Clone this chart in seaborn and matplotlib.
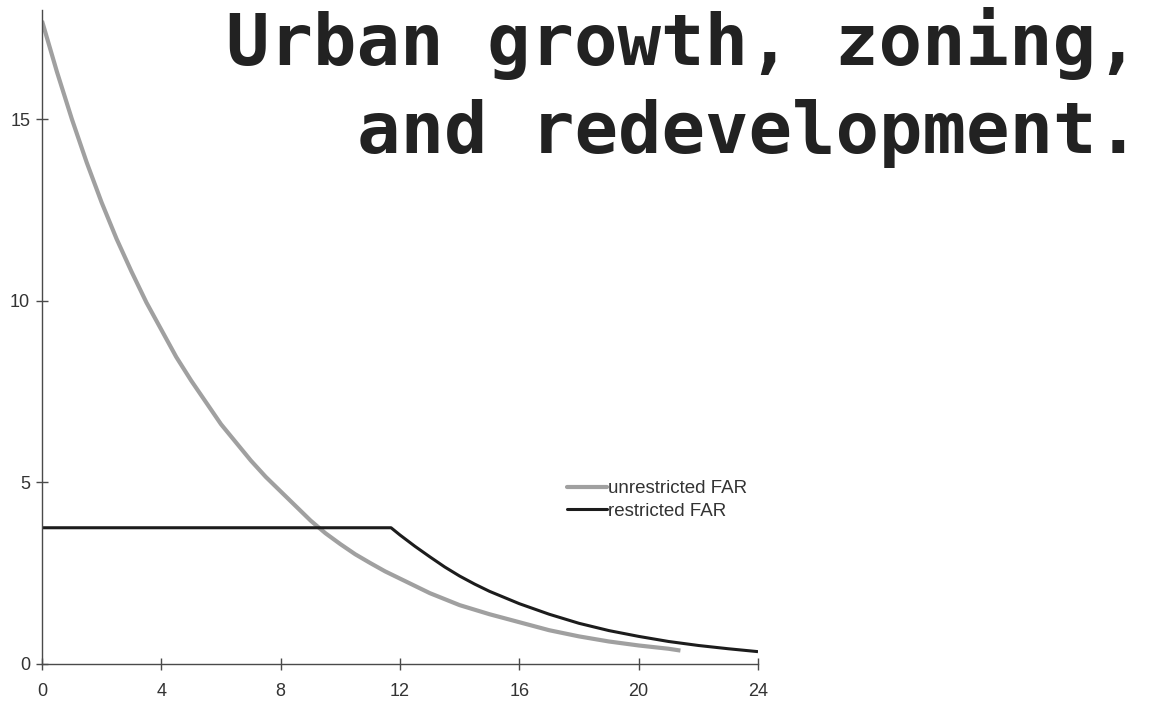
import matplotlib
matplotlib.use("Agg")
import matplotlib.pyplot as plt
from matplotlib.lines import Line2D
import seaborn as sns
import pandas as pd

# ---- data ----
dist_unrestricted = [0, 0.5, 1, 1.5, 2, 2.5, 3, 3.5, 4, 4.5, 5, 5.5, 6, 6.5, 7, 7.5, 8,
                     8.5, 9, 9.5, 10, 10.5, 11, 11.5, 12, 13, 14, 15, 16, 17, 18, 19,
                     20, 21, 21.4]
far_unrestricted = [17.7, 16.3, 15.0, 13.8, 12.7, 11.7, 10.8, 9.95, 9.2, 8.45, 7.8,
                    7.2, 6.6, 6.1, 5.6, 5.15, 4.75, 4.35, 3.95, 3.6, 3.3, 3.02, 2.78,
                    2.55, 2.35, 1.95, 1.62, 1.37, 1.15, 0.93, 0.76, 0.62, 0.51, 0.42,
                    0.37]

dist_restricted = [0, 11.7, 12, 12.5, 13, 13.5, 14, 14.5, 15, 16, 17, 18, 19, 20, 21,
                   22, 23, 24]
far_restricted = [3.75, 3.75, 3.55, 3.24, 2.95, 2.67, 2.42, 2.2, 2.0, 1.66, 1.37,
                  1.12, 0.92, 0.76, 0.62, 0.51, 0.42, 0.34]

series_labels = ["unrestricted FAR", "restricted FAR"]
x_ticks = [0, 4, 8, 12, 16, 20, 24]
y_ticks = [0, 5, 10, 15]
title_text = "Urban growth, zoning,\nand redevelopment."

df = pd.concat([
    pd.DataFrame({"x": dist_unrestricted, "y": far_unrestricted, "series": series_labels[0]}),
    pd.DataFrame({"x": dist_restricted, "y": far_restricted, "series": series_labels[1]}),
], ignore_index=True)

sns.set_style("white")
plt.rcParams["font.family"] = ["Liberation Sans", "DejaVu Sans"]

fig = plt.figure(figsize=(11.51, 7.02), dpi=100)
ax = fig.add_axes([42 / 1151, 38 / 702, 716 / 1151, 654 / 702])

palette = {series_labels[0]: "#a0a0a0", series_labels[1]: "#1c1c1c"}
sns.lineplot(data=df, x="x", y="y", hue="series", palette=palette, sort=False,
             estimator=None, ax=ax, legend=False)
lws = [3.0, 2.2]
for line, lw in zip(ax.lines, lws):
    line.set_linewidth(lw)
    line.set_solid_capstyle("butt")
    line.set_solid_joinstyle("round")

ax.set_xlim(0, 24)
ax.set_ylim(0, 18)
ax.set_xticks(x_ticks)
ax.set_yticks(y_ticks)
ax.set_xlabel("")
ax.set_ylabel("")
for s in ["top", "right"]:
    ax.spines[s].set_visible(False)
for s in ["left", "bottom"]:
    ax.spines[s].set_color("#4a4a4a")
    ax.spines[s].set_linewidth(1.0)
ax.tick_params(axis="both", direction="inout", length=9, width=1.0, color="#4a4a4a",
               labelsize=13, labelcolor="#333333", left=True, bottom=True)
ax.tick_params(axis="x", pad=9)
ax.tick_params(axis="y", pad=4)

handles = [Line2D([], [], color=palette[series_labels[0]], lw=3.0),
           Line2D([], [], color=palette[series_labels[1]], lw=2.2)]
leg = ax.legend(handles, series_labels, loc="upper left",
                bbox_to_anchor=((567 - 42) / 716, (664 - 480) / 654),
                frameon=False, handlelength=2.15, handletextpad=0.05,
                labelspacing=0.3, fontsize=13.5, borderaxespad=0, borderpad=0)
for t in leg.get_texts():
    t.set_color("#333333")

fig.text(1140 / 1151, 1 - 7 / 702, title_text, ha="right", va="top",
         fontsize=52, fontweight="bold", family="DejaVu Sans Mono",
         color="#222222", linespacing=1.36, multialignment="right")

fig.savefig("out.png", dpi=100)
